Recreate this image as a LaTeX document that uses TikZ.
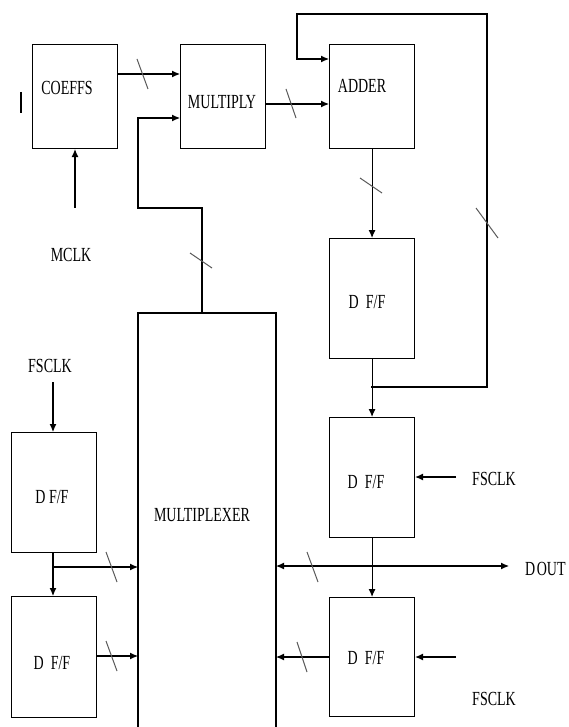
\documentclass[tikz,border=0pt]{standalone}
\usepackage{fontspec}
\newfontfamily\lblfont[FakeStretch=0.7]{Liberation Serif}
\usetikzlibrary{arrows.meta}
\begin{document}
\begin{tikzpicture}[x=1pt,y=-1pt,
  blk/.style={draw, line width=1.1pt, minimum width=85pt, inner sep=0pt, anchor=north west},
  txt/.style={font=\lblfont\fontsize{20}{20}\selectfont, inner sep=0pt},
  wire/.style={line width=1.1pt},
  arr/.style={line width=1.1pt, -{Latex[length=8pt,width=7pt]}},
  darr/.style={line width=1.1pt, {Latex[length=8pt,width=7pt]}-{Latex[length=8pt,width=7pt]}},
  bus/.style={line width=1pt, draw=black!65}]
\useasboundingbox (0,0) rectangle (568,727);
% blocks
\node[blk, minimum height=104pt] (coeffs) at (32,44) {};
\node[blk, minimum height=104pt] (mult) at (180,44) {};
\node[blk, minimum height=104pt] (adder) at (329,44) {};
\node[blk, minimum height=120pt] (dff1) at (329,238) {};
\node[blk, minimum height=120pt] (dff2) at (329,417) {};
\node[blk, minimum height=119pt] (dff3) at (329,597) {};
\node[blk, minimum height=120pt] (dffa) at (11,432) {};
\node[blk, minimum height=121pt] (dffb) at (11,596) {};
\draw[wire] (138,727) -- (138,313) -- (276,313) -- (276,727);
\coordinate (muxw) at (138,313);
\coordinate (muxe) at (276,313);
\coordinate (muxtop) at (202,313);
% labels
\node[txt] (tcoeffs) at (67,88) {COEFFS};
\node[txt] (tmult) at (222,102) {MULTIPLY};
\node[txt] (tadder) at (362,86) {ADDER};
\node[txt] (tdff1) at (367,302) {D\ \ F/F};
\node[txt] (tdff2) at (366,482) {D\ \ F/F};
\node[txt] (tdff3) at (366,658) {D\ \ F/F};
\node[txt] (tdffa) at (52,497) {D F/F};
\node[txt] (tdffb) at (52,663) {D\ \ F/F};
\node[txt] (tmux) at (202,515) {MULTIPLEXER};
\node[txt] (mclk) at (71,255) {MCLK};
\node[txt] (fsa) at (50,366) {FSCLK};
\node[txt] (fsb) at (494,479) {FSCLK};
\node[txt] (fsc) at (494,699) {FSCLK};
\node[txt, anchor=west] (dout) at (525,569) {D\kern1.5pt OUT};
% free ends
\coordinate (mclkin) at (75,208);
\coordinate (fsain) at (53,382);
\coordinate (fsbin) at (456,477);
\coordinate (fscin) at (456,657);
\coordinate (doutend) at (509,566);
\coordinate (fb) at (371,387);
\coordinate (br) at (53,567);
% connectors
\draw[arr] (coeffs.east |- 0,74) -- (mult.west |- 0,74);
\draw[arr] (muxtop) -- (202,208) -- (138,208) -- (138,118) -- (mult.west |- 0,118);
\draw[arr] (mclkin) -- (coeffs.south -| mclkin);
\draw[arr] (mult.east |- 0,104) -- (adder.west |- 0,104);
\draw[arr] (fb) -- (487,387) -- (487,14) -- (297,14) -- (297,59) -- (adder.west |- 0,59);
\draw[arr] (adder.south) -- (dff1.north);
\draw[arr] (dff1.south) -- (dff2.north);
\draw[arr] (fsbin) -- (dff2.east |- fsbin);
\draw[arr] (dff2.south) -- (dff3.north);
\draw[darr] (muxe |- doutend) -- (doutend);
\draw[arr] (dff3.west |- 0,657) -- (muxe |- 0,657);
\draw[arr] (fscin) -- (dff3.east |- fscin);
\draw[arr] (fsain) -- (dffa.north -| fsain);
\draw[arr] (dffa.south -| br) -- (dffb.north -| br);
\draw[arr] (br) -- (muxw |- br);
\draw[arr] (dffb.east |- 0,656) -- (muxw |- 0,656);
% bus slashes
\draw[bus] (137,59) -- (148,89);
\draw[bus] (190,253) -- (212,268);
\draw[bus] (286,89) -- (296,118);
\draw[bus] (476,208) -- (498,238);
\draw[bus] (360,178) -- (382,193);
\draw[bus] (307,552) -- (318,582);
\draw[bus] (297,642) -- (307,672);
\draw[bus] (106,552) -- (117,582);
\draw[bus] (106,641) -- (117,671);
% small bar
\draw[line width=2.2pt] (21,92) -- (21,113);
\end{tikzpicture}
\end{document}
